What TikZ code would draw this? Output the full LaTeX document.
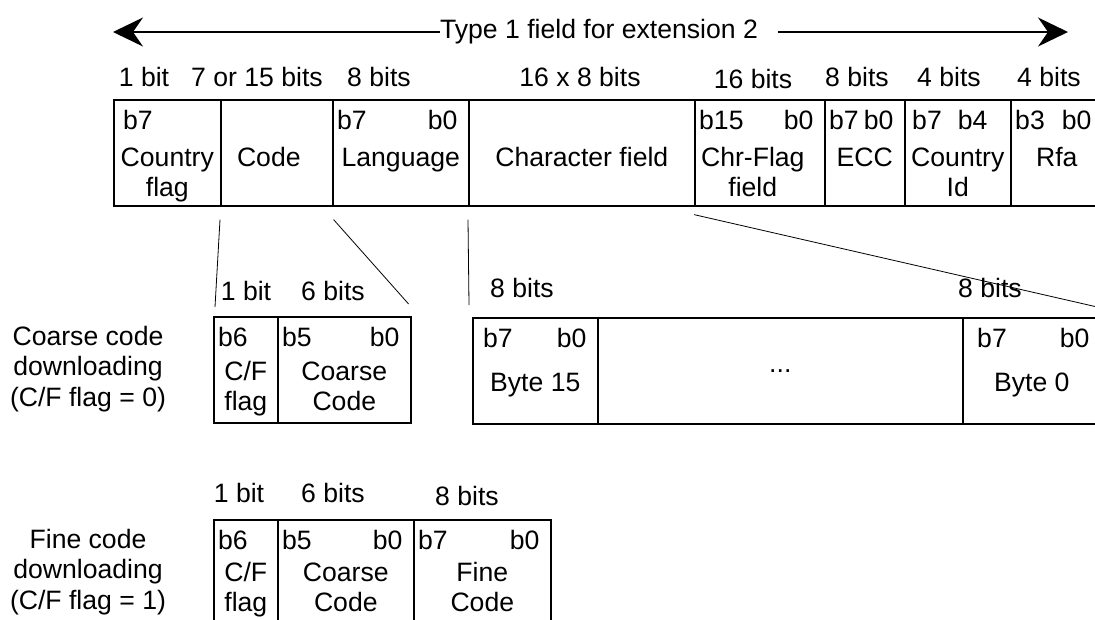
\documentclass[tikz,border=0pt]{standalone}
\usepackage{fontspec}
\setmainfont{Liberation Sans}
\usetikzlibrary{arrows.meta, positioning}
\tikzset{
  every node/.style={font=\fontsize{26.6}{30.5}\selectfont, inner sep=0pt},
  cell/.style={draw, line width=1.6pt, minimum height=106pt},
  bittag/.style={text=black},
  body/.style={align=center, anchor=north},
  bits/.style={anchor=base},
  guide/.style={line width=0.8pt},
  span/.style={line width=1.3pt, -{Stealth[length=30pt, width=29pt, inset=10pt]}}
}
% one box of a bit field: [body options]{name}{x,y}{width}{left tag}{right tag}{text}
\newcommand{\bitcell}[7][]{%
  \node[cell, minimum width=#4pt, anchor=north west] (#2) at (#3) {};
  \node[bittag, anchor=base west] at ([xshift=5pt, yshift=-30pt]#2.north west) {#5};
  \node[bittag, anchor=base east] at ([xshift=-12pt, yshift=-30pt]#2.north east) {#6};
  \node[body, #1] at ([yshift=-44.6pt]#2.north) {\strut #7};
}

\begin{document}
\begin{tikzpicture}[x=1pt, y=-1pt]
  \useasboundingbox (0,0) rectangle (1095,619);
  \clip (0,0) rectangle (1095,619);

  % span arrow
  \node[anchor=base] (title) at (599,38) {Type 1 field for extension 2};
  \coordinate (lefttip) at (113,32);
  \coordinate (righttip) at (1068,32);
  \coordinate (rightstart) at ([xshift=20pt]title.east);
  \draw[span] (title.west |- lefttip) -- (lefttip);
  \draw[span] (rightstart |- righttip) -- (righttip);

  % extension 2 field
  \foreach \x/\y/\t [count=\i] in {144/86/1 bit, 257/86/7 or 15 bits, 379/86/8 bits,
      580/86/16 x 8 bits, 753/88/16 bits, 857/86/8 bits, 949/86/4 bits, 1049/86/4 bits}
    \node[bits] (top\i) at (\x,\y) {\t};
  \bitcell[yshift=-1pt]{cflag}{113,99}{107}{\hspace{5pt}b7}{}{Country\\flag}
  \bitcell[xshift=-8pt, yshift=-1pt]{code}{220,99}{112}{}{}{Code}
  \bitcell[yshift=-1pt]{lang}{332,99}{136}{b7}{b0}{Language}
  \bitcell[yshift=-1pt]{chars}{468,99}{226}{}{}{Character field}
  \bitcell[xshift=-7pt, yshift=-1pt]{chrflag}{694,99}{130}{b15}{b0}{Chr-Flag\\field}
  \bitcell[yshift=-1pt]{ecc}{824,99}{80}{b7}{b0}{ECC}
  \bitcell[yshift=-1pt]{cid}{904,99}{106}{\hspace{3pt}b7\hspace{16pt}b4}{}{Country\\Id}
  \bitcell[yshift=-1pt]{rfa}{1010,99}{92}{b3}{b0}{Rfa}

  % coarse code
  \node[body] (coarselbl) at (88,323.5) {\strut Coarse code\\downloading\\(C/F flag = 0)};
  \node[bits] (cbit1) at (246,300) {1 bit};
  \node[bits] (cbit6) at (333,300) {6 bits};
  \bitcell[yshift=2pt]{cfA}{213,316}{64}{b6}{}{C/F\\flag}
  \bitcell[yshift=2pt]{ccA}{277,316}{133}{b5}{b0}{Coarse\\Code}

  % character bytes
  \node[bits] (bbit15) at (522,297) {8 bits};
  \node[bits] (bbit0) at (990,297) {8 bits};
  \bitcell[yshift=-8pt]{byteA}{472,317}{125}{\hspace{6pt}b7}{b0}{Byte 15}
  \bitcell[yshift=11pt]{dots}{597,317}{365}{}{}{...}
  \bitcell[yshift=-8pt]{byteZ}{962,317}{138}{\hspace{10pt}b7}{b0}{Byte 0}

  % fine code
  \node[body] (finelbl) at (88,526.5) {\strut Fine code\\downloading\\(C/F flag = 1)};
  \node[bits] (fbit1) at (239,502) {1 bit};
  \node[bits] (fbit6) at (333,502) {6 bits};
  \node[bits] (fbit8) at (467,505) {8 bits};
  \bitcell[yshift=4pt]{cfB}{213,519}{64}{b6}{}{C/F\\flag}
  \bitcell[yshift=4pt]{ccB}{277,519}{136}{b5}{b0}{Coarse\\Code}
  \bitcell[yshift=4pt]{fineB}{413,519}{137}{b7}{b0}{Fine\\Code}

  % expansion lines
  \draw[guide] ([yshift=-13pt]code.south west) -- ([xshift=2pt, yshift=9pt]cfA.north west);
  \draw[guide] ([yshift=-13pt]code.south east) -- ([xshift=-3pt, yshift=12pt]ccA.north east);
  \draw[guide] ([yshift=-13pt]chars.south west) -- ([xshift=-3pt, yshift=12pt]byteA.north west);
  \draw[guide] ([yshift=-8pt]chrflag.south west) -- ([yshift=9pt]byteZ.north east);
\end{tikzpicture}
\end{document}
